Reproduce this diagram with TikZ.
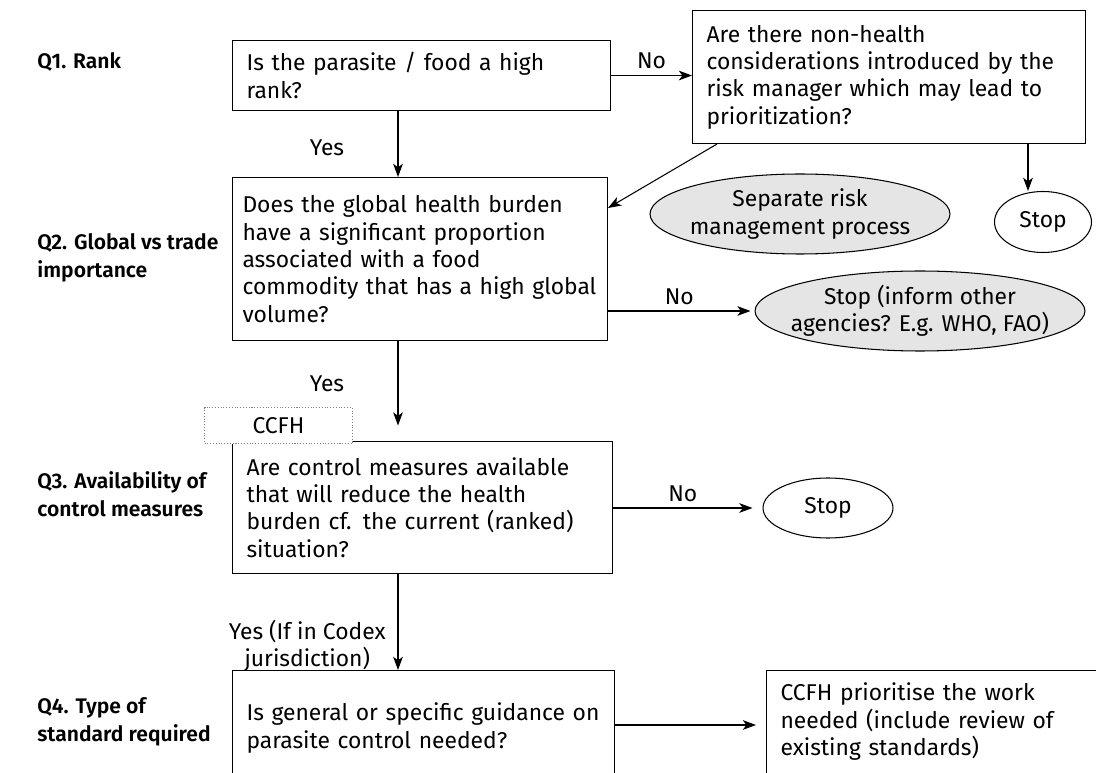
\documentclass[tikz,border=0pt]{standalone}
\usepackage{fontspec}
\setmainfont{Fira Sans}[BoldFont={Fira Sans SemiBold}]
\usetikzlibrary{shapes.geometric,arrows.meta}

\begin{document}
\begin{tikzpicture}[x=0.02cm, y=-0.02cm, >={Stealth[length=7.5pt,width=5.5pt,inset=2pt]}, line width=0.6pt,
  every node/.style={font=\fontsize{13}{15.6}\selectfont},
  qbox/.style={draw, fill=white, align=left, anchor=north west, inner xsep=0.28cm},
  endnode/.style={draw, ellipse, align=center, inner xsep=-2cm, inner ysep=-0.6cm},
  grey/.style={fill=gray!20},
  qlabel/.style={anchor=west, align=left, font=\fontsize{12}{15.6}\selectfont\bfseries}]
\useasboundingbox (0,0) rectangle (1096,773);
\clip (0,0) rectangle (1096,773);
\coordinate (spine) at (398,0);

\node (q1) [qlabel] at (31,62) {Q1. Rank};
\node (q2) [qlabel] at (31,258) {Q2. Global vs trade\\importance};
\node (q3) [qlabel] at (31,494) {Q3. Availability of\\control measures};
\node (q4) [qlabel] at (31,722) {Q4. Type of\\standard required};

\node (rank) [qbox, text width=7cm, minimum height=1.4cm] at (232,40) {Is the parasite / food a high\\rank?};
\node (nonhealth) [qbox, text width=7.3cm, minimum height=2.66cm] at (692,10) {Are there non-health\\considerations introduced by the\\risk manager which may lead to\\prioritization?};
\node (global) [qbox, inner xsep=0.2cm, text width=7.1cm, minimum height=3.26cm] at (232,177) {Does the global health burden\\have a significant proportion\\associated with a food\\commodity that has a high global\\volume?};
\node (control) [qbox, text width=7.04cm, minimum height=2.64cm] at (232,441) {Are control measures available\\that will reduce the health\\burden cf. the current (ranked)\\situation?};
\node (ccfh) [draw=gray, densely dotted, fill=white, minimum width=2.96cm, minimum height=0.72cm, anchor=north west] at (204,407) {CCFH};
\node (guidance) [qbox, text width=7.08cm, minimum height=2.3cm] at (232,670) {Is general or specific guidance on\\parasite control needed?};
\node (work) [qbox, text width=6.24cm, inner ysep=0.25cm, text depth=1.6cm] at (766,670) {CCFH prioritise the work\\needed (include review of\\existing standards)};

\node (separate) [endnode, grey, minimum width=6cm, minimum height=1.6cm] at (800,214) {Separate risk\\management process};
\node (stopa) [endnode, minimum width=1.94cm, minimum height=1.22cm] at (1043,222) {Stop};
\node (inform) [endnode, grey, minimum width=6.6cm, minimum height=1.6cm] at (920,311) {Stop (inform other\\agencies? E.g. WHO, FAO)};
\node (stopb) [endnode, minimum width=2.6cm, minimum height=1.2cm] at (828,508) {Stop};

\draw[->] (rank.east) -- node[above] {No} (rank.east -| nonhealth.west);
\draw[->] (rank.south -| spine) -- node[left=0.95cm, yshift=-0.08cm] {Yes} (global.north -| spine);
\draw[->] ([xshift=0.5cm]nonhealth.south west) -- ([yshift=-0.62cm]global.north east);
\draw[->] (nonhealth.south -| 1028,0) -- (stopa.north -| 1028,0);
\draw[->] (global.east |- inform.west) -- node[above] {No} ([xshift=-0.08cm]inform.west);
\draw[->] (global.south -| spine) -- node[left=0.95cm] {Yes} (ccfh.east -| spine);
\draw[->] (control.east |- stopb.west) -- node[above] {No} ([xshift=-0.2cm]stopb.west);
\draw[->] (control.south -| spine) -- node[pos=0.75, anchor=east, align=center, xshift=-0.12cm] {Yes (If in Codex\\jurisdiction)} (guidance.north -| spine);
\draw[->] (guidance.east |- 0,725) -- ([xshift=-0.2cm]work.west |- 0,725);
\end{tikzpicture}
\end{document}
